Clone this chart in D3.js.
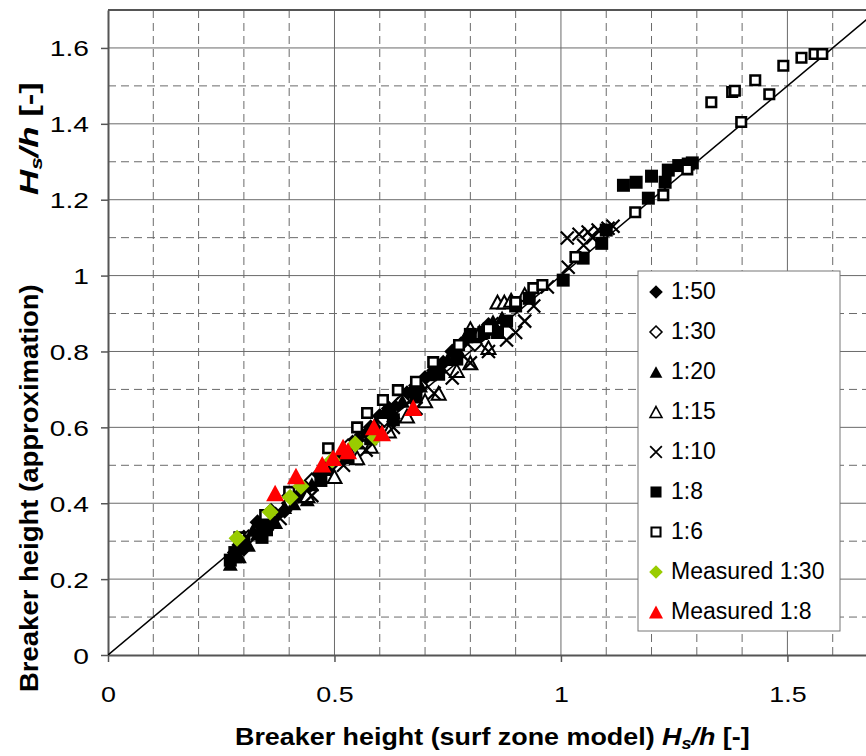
<!DOCTYPE html>
<html>
<head>
<meta charset="utf-8">
<script src="https://cdn.jsdelivr.net/npm/d3@7"></script>
<style>
body { margin: 0; background: #fff; }
text { font-family: "Liberation Sans", Arial, sans-serif; }
</style>
</head>
<body>
<div id="chart"></div>
<script>
// series values [Hs/h surf zone model, Hs/h approximation]
const slope50 = [[0.28,0.27],[0.29,0.29],[0.30,0.28],[0.30,0.31],[0.33,0.35],[0.34,0.34],[0.35,0.33],[0.36,0.38],[0.37,0.37],[0.39,0.38],[0.40,0.42],[0.42,0.42],[0.44,0.44],[0.46,0.47],[0.48,0.49],[0.50,0.51],[0.52,0.53],[0.54,0.56],[0.56,0.58],[0.58,0.60],[0.60,0.63],[0.62,0.65],[0.64,0.66],[0.66,0.69],[0.68,0.71],[0.70,0.73],[0.72,0.75],[0.74,0.77],[0.76,0.80],[0.78,0.82],[0.80,0.83],[0.82,0.84],[0.84,0.87]];
const slope30 = [[0.31,0.31],[0.36,0.37],[0.40,0.40],[0.45,0.46],[0.49,0.50],[0.53,0.55],[0.57,0.58],[0.61,0.62],[0.65,0.67],[0.69,0.71],[0.73,0.75],[0.77,0.79],[0.81,0.82],[0.86,0.87]];
const slope20 = [[0.27,0.24],[0.28,0.26],[0.29,0.26],[0.31,0.29],[0.32,0.33],[0.33,0.32],[0.35,0.35],[0.37,0.35],[0.39,0.39],[0.41,0.40],[0.43,0.43],[0.44,0.41],[0.45,0.45],[0.47,0.47],[0.49,0.49],[0.51,0.52],[0.53,0.54],[0.55,0.56],[0.57,0.59],[0.59,0.61],[0.61,0.64],[0.63,0.64],[0.65,0.67],[0.67,0.70],[0.69,0.71],[0.71,0.74],[0.73,0.76],[0.75,0.78],[0.77,0.81],[0.79,0.84],[0.81,0.84],[0.83,0.86],[0.85,0.88],[0.87,0.89]];
const slope15 = [[0.44,0.42],[0.50,0.47],[0.55,0.52],[0.58,0.55],[0.62,0.59],[0.66,0.63],[0.70,0.67],[0.73,0.69],[0.77,0.75],[0.80,0.77],[0.84,0.81],[0.80,0.86],[0.82,0.85],[0.86,0.93],[0.875,0.93],[0.89,0.935],[0.92,0.95]];
const slope10 = [[0.38,0.36],[0.45,0.42],[0.52,0.50],[0.57,0.54],[0.63,0.60],[0.68,0.65],[0.72,0.69],[0.76,0.73],[0.80,0.77],[0.84,0.80],[0.88,0.83],[0.90,0.85],[0.92,0.88],[0.94,0.92],[0.97,0.97],[1.016,1.022],[1.014,1.099],[1.04,1.109],[1.06,1.115],[1.082,1.12],[1.104,1.125],[1.115,1.13],[1.05,1.08],[1.07,1.10]];
const slope8 = [[0.27,0.25],[0.28,0.27],[0.30,0.30],[0.34,0.31],[0.35,0.33],[0.36,0.35],[0.47,0.46],[0.53,0.52],[0.58,0.57],[0.63,0.62],[0.68,0.68],[0.73,0.74],[0.77,0.78],[0.80,0.845],[0.83,0.85],[0.86,0.85],[0.88,0.88],[0.90,0.92],[0.93,0.94],[1.005,0.988],[1.049,1.046],[1.09,1.085],[1.10,1.12],[1.138,1.238],[1.166,1.246],[1.193,1.204],[1.20,1.262],[1.23,1.246],[1.237,1.278],[1.26,1.29],[1.281,1.294],[1.29,1.297]];
const slope6 = [[0.29,0.31],[0.347,0.369],[0.40,0.43],[0.486,0.545],[0.55,0.60],[0.572,0.638],[0.607,0.672],[0.64,0.698],[0.68,0.72],[0.718,0.772],[0.775,0.817],[0.84,0.86],[0.90,0.93],[0.939,0.967],[0.959,0.975],[1.032,1.049],[1.164,1.167],[1.226,1.212],[1.279,1.28],[1.332,1.457],[1.378,1.484],[1.384,1.487],[1.398,1.405],[1.429,1.515],[1.460,1.478],[1.491,1.553],[1.531,1.574],[1.560,1.584],[1.577,1.584]];
const measured30 = [[0.285,0.308],[0.358,0.377],[0.402,0.416],[0.426,0.445],[0.495,0.514],[0.546,0.556],[0.59,0.573]];
const measured8 = [[0.369,0.427],[0.415,0.472],[0.473,0.503],[0.497,0.52],[0.519,0.548],[0.53,0.538],[0.587,0.601],[0.605,0.585],[0.674,0.652]];
const perfectFit = [[0,0],[1.7,1.7]];

const seriesNames = ["1:50","1:30","1:20","1:15","1:10","1:8","1:6","Measured 1:30","Measured 1:8"];
const seriesData = [slope50, slope30, slope20, slope15, slope10, slope8, slope6, measured30, measured8];

const xTicks = [0, 0.5, 1, 1.5];
const yTicks = [0, 0.2, 0.4, 0.6, 0.8, 1, 1.2, 1.4, 1.6];
const gridSteps = d3.range(1, 17).map(i => i / 10);

// marker styles, same order as seriesNames (w = marker width in px)
const markerStyle = [
  {shape: "diamond", w: 16, fill: "#000", stroke: "none"},
  {shape: "diamond", w: 14, fill: "#fff", stroke: "#000"},
  {shape: "triangle", w: 15, fill: "#000", stroke: "none"},
  {shape: "triangle", w: 14, fill: "#fff", stroke: "#000"},
  {shape: "times", w: 13, fill: "none", stroke: "#000"},
  {shape: "square", w: 13, fill: "#000", stroke: "none"},
  {shape: "square", w: 9.5, fill: "#fff", stroke: "#000"},
  {shape: "diamond", w: 17, fill: "#99cc00", stroke: "none"},
  {shape: "triangle", w: 18, fill: "#ff0000", stroke: "none"}
];
const legendScale = [0.85, 0.85, 0.85, 0.85, 0.9, 0.85, 0.95, 0.8, 0.78];

const width = 866, height = 756;
const plot = {left: 108, top: 10, bottom: 655, right: 878};

const svg = d3.select("#chart")
  .append("svg")
  .attr("width", width)
  .attr("height", height);

const x = d3.scaleLinear().domain([0, 1.7]).range([plot.left, plot.right]);
const y = d3.scaleLinear().domain([0, 1.7]).range([plot.bottom, plot.top]);

function markerPath(st, k) {
  const w = st.w * (k || 1), r = w / 2;
  if (st.shape == "diamond") return `M0,${-r}L${r},0L0,${r}L${-r},0Z`;
  if (st.shape == "square") return `M${-r},${-r}H${r}V${r}H${-r}Z`;
  if (st.shape == "triangle") { const h = w * 0.92; return `M0,${-h / 2}L${r},${h / 2}L${-r},${h / 2}Z`; }
  return `M${-r},${-r}L${r},${r}M${-r},${r}L${r},${-r}`;
}
function strokeW(st) {
  if (st.stroke == "none") return 0;
  return st.shape == "times" ? 2.2 : (st.shape == "square" ? 2.6 : 2);
}

// grid lines
const grid = svg.append("g");
grid.selectAll(".vgrid")
  .data(gridSteps)
  .join("line")
  .attr("x1", d => x(d)).attr("x2", d => x(d))
  .attr("y1", plot.top).attr("y2", plot.bottom)
  .attr("stroke", "#6a6a6a")
  .attr("stroke-width", 1)
  .attr("stroke-dasharray", d => Math.round(d * 10) % 5 == 0 ? null : "8,5");

grid.selectAll(".hgrid")
  .data(gridSteps)
  .join("line")
  .attr("y1", d => y(d)).attr("y2", d => y(d))
  .attr("x1", plot.left).attr("x2", plot.right)
  .attr("stroke", "#6a6a6a")
  .attr("stroke-width", 1)
  .attr("stroke-dasharray", d => Math.round(d * 10) % 2 == 0 ? null : "8,5");

// frame: top border and axes
svg.append("line")
  .attr("x1", plot.left).attr("x2", plot.right)
  .attr("y1", plot.top).attr("y2", plot.top)
  .attr("stroke", "#555").attr("stroke-width", 2);

const xAxis = svg.append("g")
  .attr("transform", `translate(0,${plot.bottom})`)
  .call(d3.axisBottom(x).tickValues(xTicks).tickSize(7).tickSizeOuter(0)
    .tickFormat(d3.format("")));
const yAxis = svg.append("g")
  .attr("transform", `translate(${plot.left},0)`)
  .call(d3.axisLeft(y).tickValues(yTicks).tickSize(7).tickSizeOuter(0)
    .tickFormat(d3.format("")));

[xAxis, yAxis].forEach(a => {
  a.select(".domain").attr("stroke", "#555").attr("stroke-width", 2);
  a.selectAll(".tick line").attr("stroke", "#555").attr("stroke-width", 1.5);
  a.selectAll(".tick text")
    .attr("fill", "#000")
    .attr("font-size", null)
    .style("font-size", "22px")
    .style("font-family", "'Liberation Sans', Arial, sans-serif");
});
xAxis.selectAll(".tick text")
  .attr("y", 0).attr("dy", null)
  .attr("transform", "translate(0,47) scale(1.22,1)");
yAxis.selectAll(".tick text")
  .attr("x", 0).attr("dy", null)
  .attr("transform", "translate(-19,8) scale(1.28,1)");

// data area
svg.append("defs").append("clipPath")
  .attr("id", "clip")
  .append("rect")
  .attr("x", plot.left).attr("y", plot.top)
  .attr("width", plot.right - plot.left).attr("height", plot.bottom - plot.top);

const area = svg.append("g").attr("clip-path", "url(#clip)");

area.append("path")
  .datum(perfectFit)
  .attr("fill", "none")
  .attr("stroke", "#000")
  .attr("stroke-width", 1.5)
  .attr("d", d3.line().x(d => x(d[0])).y(d => y(d[1])));

seriesData.forEach((data, i) => {
  const st = markerStyle[i];
  area.append("g")
    .selectAll("path")
    .data(data)
    .join("path")
    .attr("d", markerPath(st))
    .attr("transform", d => `translate(${x(d[0])},${y(d[1])})`)
    .attr("fill", st.fill)
    .attr("stroke", st.stroke)
    .attr("stroke-width", strokeW(st));
});

// legend
const legend = svg.append("g");
legend.append("rect")
  .attr("x", 638).attr("y", 271)
  .attr("width", 202).attr("height", 360)
  .attr("fill", "#fff")
  .attr("stroke", "#777")
  .attr("stroke-width", 1);

const item = legend.selectAll(".item")
  .data(seriesNames)
  .join("g")
  .attr("transform", (d, i) => `translate(656,${292 + i * 40})`);

item.append("path")
  .attr("d", (d, i) => markerPath(markerStyle[i], legendScale[i]))
  .attr("fill", (d, i) => markerStyle[i].fill)
  .attr("stroke", (d, i) => markerStyle[i].stroke)
  .attr("stroke-width", (d, i) => strokeW(markerStyle[i]) * 0.8);

item.append("text")
  .attr("x", 15)
  .attr("y", 7)
  .style("font-size", "23px")
  .attr("fill", "#000")
  .text(d => d);

// axis titles
function fitText(t, target) {
  const w = t.node().getComputedTextLength();
  t.attr("transform", `scale(${target / w},1)`);
}

function hsh(t) {
  t.append("tspan").style("font-style", "italic").text("H");
  t.append("tspan").style("font-style", "italic").style("font-size", "16px").attr("dy", 4).text("s");
  t.append("tspan").style("font-style", "italic").attr("dy", -4).text("/h");
  t.append("tspan").text(" [-]");
}

const xTitle = svg.append("g").attr("transform", "translate(235,745)")
  .append("text")
  .style("font-size", "24px").style("font-weight", "bold");
xTitle.append("tspan").text("Breaker height (surf zone model) ");
hsh(xTitle);
fitText(xTitle, 515);

const yTitleA = svg.append("g").attr("transform", "translate(38,692) rotate(-90)")
  .append("text")
  .style("font-size", "25px").style("font-weight", "bold")
  .text("Breaker height (approximation)");
fitText(yTitleA, 408);

const yTitleB = svg.append("g").attr("transform", "translate(38,195) rotate(-90)")
  .append("text")
  .style("font-size", "25px").style("font-weight", "bold");
hsh(yTitleB);
fitText(yTitleB, 113);
</script>
</body>
</html>
